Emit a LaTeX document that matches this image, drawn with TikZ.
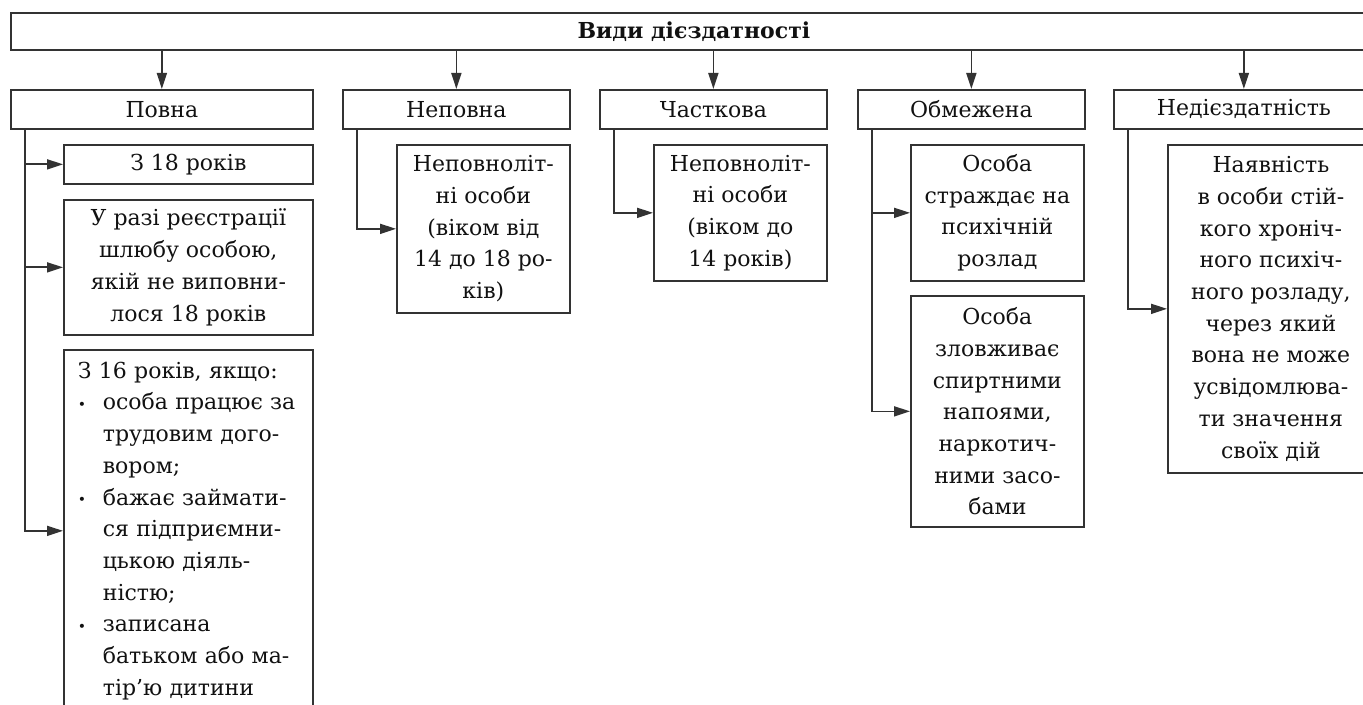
\documentclass[tikz,border=0pt]{standalone}
\usepackage{fontspec}
\setmainfont{DejaVu Serif}
\usetikzlibrary{arrows.meta}

\definecolor{lin}{HTML}{333333}
\definecolor{txt}{HTML}{111111}
\newcommand{\fs}{\fontsize{11}{15.85}\selectfont}
\newcommand{\blt}{\makebox[12.5pt][l]{\raisebox{0.4pt}{\scriptsize\textbullet}}}
\newcommand{\ind}{\hspace*{12.5pt}}

\begin{document}
\begin{tikzpicture}[x=0.5pt, y=-0.5pt,
	every node/.style={font=\fs, text=txt},
	box/.style={draw=lin, line width=0.85pt, anchor=north west, align=center, inner sep=0pt},
	arr/.style={draw=lin, line width=0.85pt, -{Triangle[length=8pt, width=5pt]}}]
	\useasboundingbox (0,0) rectangle (1363,705);
	
	% Заголовок
	\node[box, minimum width=683pt, minimum height=18.5pt, font=\fs\bfseries] (title) at (10,12) {Види дієздатності};
	
	% Види
	\node[box, minimum width=151pt, minimum height=19.5pt] (pov) at (10,89) {Повна};
	\node[box, minimum width=113.5pt, minimum height=19.5pt] (nep) at (342,89) {Неповна};
	\node[box, minimum width=113.5pt, minimum height=19.5pt] (cha) at (599,89) {Часткова};
	\node[box, minimum width=113.5pt, minimum height=19.5pt] (obm) at (857,89) {Обмежена};
	\node[box, minimum width=130pt, minimum height=19.5pt] (ned) at (1113,89) {Недієздатність};
	
	% Повна
	\node[box, minimum width=124.5pt, minimum height=19.5pt] (pov1) at (63,144) {З 18 років};
	\node[box, minimum width=124.5pt, minimum height=67.5pt] (pov2) at (63,199)
		{У разі реєстрації\\шлюбу особою,\\якій не виповни-\\лося 18 років};
	\node[box, align=left, text width=110.5pt, inner xsep=7pt, minimum height=181pt] (pov3) at (63,349)
		{З 16 років, якщо:\\\blt особа працює за\\\ind трудовим дого-\\\ind вором;\\
		 \blt бажає займати-\\\ind ся підприємни-\\\ind цькою діяль-\\\ind ністю;\\
		 \blt записана\\\ind батьком або ма-\\\ind тір’ю дитини};
	
	% Неповна, часткова
	\node[box, minimum width=86.5pt, minimum height=84pt] (nep1) at (396,144)
		{Неповноліт-\\ні особи\\(віком від\\14 до 18 ро-\\ків)};
	\node[box, minimum width=86.5pt, minimum height=68pt] (cha1) at (653,144)
		{Неповноліт-\\ні особи\\(віком до\\14 років)};
	
	% Обмежена
	\node[box, minimum width=86.5pt, minimum height=68pt] (obm1) at (910,144)
		{Особа\\страждає на\\психічній\\розлад};
	\node[box, minimum width=86.5pt, minimum height=115.5pt] (obm2) at (910,295)
		{Особа\\зловживає\\спиртними\\напоями,\\наркотич-\\ними засо-\\бами};
	
	% Недієздатність
	\node[box, minimum width=103pt, minimum height=164pt] (ned1) at (1167,144)
		{Наявність\\в особи стій-\\кого хроніч-\\ного психіч-\\ного розладу,\\через який\\вона не може\\усвідомлюва-\\ти значення\\своїх дій};
	
	% Стрілки
	\foreach \n in {pov,nep,cha,obm,ned}
		\draw[arr] (\n.north |- title.south) -- (\n.north);
	\foreach \p/\c in {pov/pov1, pov/pov2, pov/pov3, nep/nep1, cha/cha1, obm/obm1, obm/obm2, ned/ned1}
		\draw[arr] ([xshift=7.5pt]\p.south west) |- (\c.west);
\end{tikzpicture}
\end{document}
